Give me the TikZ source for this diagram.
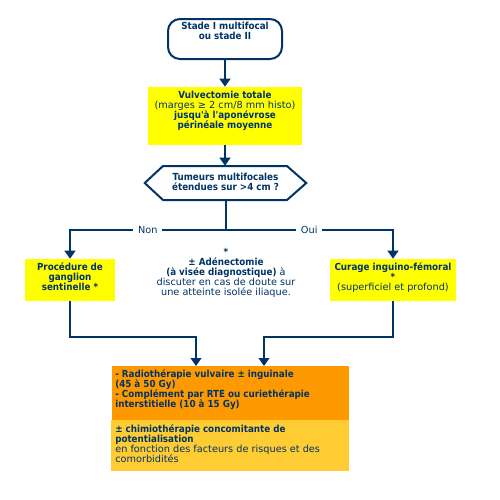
\documentclass[tikz,border=0pt]{standalone}
\usepackage{fontspec}
\setmainfont{DejaVu Sans}[BoldFont={DejaVu Sans Condensed Bold}]
\usepackage{xcolor}
\usetikzlibrary{arrows.meta, fit}

\definecolor{navy}{HTML}{003366}
\definecolor{jaune}{HTML}{FFFF00}
\definecolor{orangefonce}{HTML}{FF9900}
\definecolor{orangeclair}{HTML}{FFCC33}

\begin{document}
\begin{tikzpicture}[x=0.75pt, y=-0.75pt,
		txt/.style={text=navy, font=\fontsize{7.3}{7.5}\selectfont, inner sep=0pt, align=center},
		boite/.style={inner sep=0pt, fill=#1},
		trait/.style={draw=navy, line width=1.5pt},
		fleche/.style={trait, -{Triangle[width=8pt,length=6pt]}}]
			% Draw page
			\fill[white] (0,0) rectangle (500,500);
			\useasboundingbox (0,0) rectangle (500,500);
			
			% Draw boxes
			\node[fit={(168,19) (282,59)}, trait, rounded corners=9pt, inner sep=0pt, fill=white] (depart) {};
			\node[boite=jaune, fit={(148,87) (302,145)}] (vulv) {};
			\node[fit={(145,166) (306,200)}, inner sep=0pt] (tumeurs) {};
			\draw[trait, line join=miter] (tumeurs.west) -- (163,166) -- (287,166) -- (tumeurs.east) -- (287,200) -- (163,200) -- cycle;
			\node[boite=jaune, fit={(25,259) (115,301)}] (sentinelle) {};
			\node[boite=jaune, fit={(330,259) (456,301)}] (curage) {};
			\node[boite=orangefonce, fit={(112,366) (349,420)}] (radio) {};
			\node[boite=orangeclair, fit={(111,420) (349,471)}] (chimio) {};
			
			% Texts in the boxes
			\node[txt] (departtxt) at (225,31) {\textbf{Stade I multifocal}\\\textbf{ou stade II}};
			\node[txt] (vulvtxt) at (225,110.5) {\textbf{Vulvectomie totale}\\(marges ≥ 2 cm/8 mm histo)\\\textbf{jusqu\textquotesingle à l\textquotesingle aponévrose}\\\textbf{périnéale moyenne}};
			\node[txt] (tumeurstxt) at (225.5,182) {\textbf{Tumeurs multifocales}\\\textbf{étendues sur >4 cm ?}};
			\node[txt] (sentinelletxt) at (70,277) {\textbf{Procédure de}\\\textbf{ganglion}\\\textbf{sentinelle *}};
			\node[txt] (curagetxt) at (393,277.5) {\textbf{Curage inguino-fémoral}\\\textbf{*}\\(superficiel et profond)};
			\node[txt] (adeno) at (226,272.5) {\textbf{*}\\\textbf{± Adénectomie}\\\textbf{(à visée diagnostique)} à\\discuter en cas de doute sur\\une atteinte isolée iliaque.};
			\node[txt, align=left, anchor=north west] (radiotxt) at (115,369) {\textbf{- Radiothérapie vulvaire ± inguinale}\\\textbf{(45 à 50 Gy)}\\\textbf{- Complément par RTE ou curiethérapie}\\\textbf{interstitielle (10 à 15 Gy)}};
			\node[txt, align=left, anchor=north west] (chimiotxt) at (115,424) {\textbf{± chimiothérapie concomitante de}\\\textbf{potentialisation}\\en fonction des facteurs de risques et des\\comorbidités};
			
			% Draw connectors
			\draw[fleche] (depart) -- (vulv);
			\draw[fleche] (vulv.south) -- (vulv.south |- tumeurs.north);
			\draw[trait] (tumeurs.south) -- ++(0,30) coordinate (fourche);
			\draw[fleche] (fourche) -| node[txt, pos=0.25, fill=white, inner xsep=3.5pt, inner ysep=1pt] (non) {Non} (sentinelle.north);
			\draw[fleche] (fourche) -| node[txt, pos=0.25, fill=white, inner xsep=3.5pt, inner ysep=1pt] (oui) {Oui} (curage.north);
			\coordinate (entreeG) at (196,366);
			\coordinate (entreeD) at (264,366);
			\draw[fleche] (sentinelle.south) -- ++(0,36) -| (entreeG);
			\draw[fleche] (curage.south) -- ++(0,36) -| (entreeD);
			
		\end{tikzpicture}
\end{document}
